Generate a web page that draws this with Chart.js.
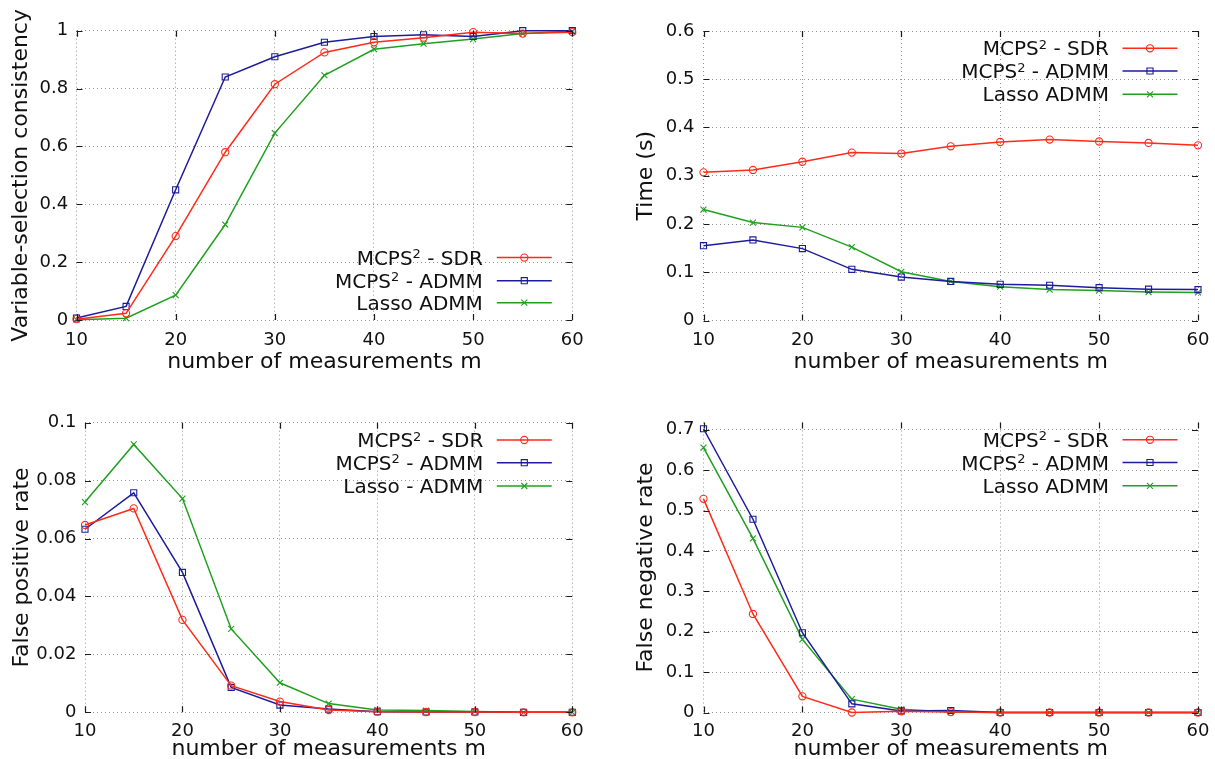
<!DOCTYPE html>
<html>
<head>
<meta charset="utf-8">
<script src="https://cdn.jsdelivr.net/npm/chart.js@4.4.1/dist/chart.umd.min.js"></script>
<style>
  html, body { margin: 0; padding: 0; background: #fff; width: 1215px; height: 759px; overflow: hidden; }
  .panel { position: absolute; }
</style>
</head>
<body>
<div class="panel" style="left:0px;top:0px;width:607px;height:380px"><canvas id="c1"></canvas></div>
<div class="panel" style="left:607px;top:0px;width:608px;height:380px"><canvas id="c2"></canvas></div>
<div class="panel" style="left:0px;top:380px;width:607px;height:390px"><canvas id="c3"></canvas></div>
<div class="panel" style="left:607px;top:380px;width:608px;height:390px"><canvas id="c4"></canvas></div>
<script>
// ---------------- data ----------------
const mValues = [10, 15, 20, 25, 30, 35, 40, 45, 50, 55, 60];
const xTickValues = [10, 20, 30, 40, 50, 60];
const xTitle = 'number of measurements m';

const consistencySdr   = [0.003, 0.023, 0.290, 0.580, 0.815, 0.925, 0.960, 0.976, 0.995, 0.990, 0.995];
const consistencyAdmm  = [0.007, 0.047, 0.450, 0.840, 0.910, 0.960, 0.980, 0.986, 0.980, 1.000, 1.000];
const consistencyLasso = [0.001, 0.006, 0.086, 0.330, 0.646, 0.846, 0.936, 0.955, 0.971, 0.990, 0.998];
const consistencyTicks = [0, 0.2, 0.4, 0.6, 0.8, 1];

const timeSdr   = [0.307, 0.312, 0.329, 0.348, 0.346, 0.361, 0.370, 0.375, 0.371, 0.368, 0.363];
const timeAdmm  = [0.155, 0.167, 0.149, 0.106, 0.090, 0.081, 0.075, 0.073, 0.068, 0.065, 0.064];
const timeLasso = [0.230, 0.203, 0.193, 0.152, 0.101, 0.081, 0.070, 0.064, 0.062, 0.059, 0.058];
const timeTicks = [0, 0.1, 0.2, 0.3, 0.4, 0.5, 0.6];

const fprSdr   = [0.0647, 0.0704, 0.0319, 0.0092, 0.0037, 0.0008, 0.0002, 0.0001, 0.0001, 0, 0];
const fprAdmm  = [0.0632, 0.0758, 0.0483, 0.0086, 0.0025, 0.0011, 0.0002, 0.0001, 0.0001, 0, 0];
const fprLasso = [0.0726, 0.0925, 0.0738, 0.0288, 0.0102, 0.0030, 0.0008, 0.0006, 0.0003, 0, 0];
const fprTicks = [0, 0.02, 0.04, 0.06, 0.08, 0.1];

const fnrSdr   = [0.529, 0.244, 0.040, 0.000, 0.003, 0.001, 0, 0, 0, 0, 0];
const fnrAdmm  = [0.7025, 0.4785, 0.1975, 0.0215, 0.004, 0.005, 0, 0, 0, 0, 0];
const fnrLasso = [0.656, 0.431, 0.181, 0.033, 0.008, 0.001, 0, 0, 0, 0, 0];
const fnrTicks = [0, 0.1, 0.2, 0.3, 0.4, 0.5, 0.6, 0.7];

const labelsMain = ['MCPS^2 - SDR', 'MCPS^2 - ADMM', 'Lasso ADMM'];
const labelsFpr  = ['MCPS^2 - SDR', 'MCPS^2 - ADMM', 'Lasso - ADMM'];

// ---------------- styles ----------------
const FAMILY = '"DejaVu Sans", "Liberation Sans", sans-serif';
const colors = ['#ff2a1a', '#1c1c9c', '#1fa01f'];
const pStyles = ['circle', 'rect', 'crossRot'];
const pRadii = [3.6, 4.3, 4.2];
const gridColor = '#959595';
const textColor = '#111';

const fmt = v => String(parseFloat(Number(v).toFixed(4)));

const tickMarks = {
  id: 'tickMarks',
  afterDatasetsDraw(chart) {
    const { ctx, chartArea: a, scales: { x, y } } = chart;
    ctx.save();
    ctx.strokeStyle = '#1a1a1a';
    ctx.lineWidth = 1.2;
    ctx.beginPath();
    x.ticks.forEach(t => {
      const px = Math.round(x.getPixelForValue(t.value)) + 0.5;
      ctx.moveTo(px, a.bottom); ctx.lineTo(px, a.bottom - 6);
      ctx.moveTo(px, a.top); ctx.lineTo(px, a.top + 6);
    });
    y.ticks.forEach(t => {
      const py = Math.round(y.getPixelForValue(t.value)) + 0.5;
      ctx.moveTo(a.left, py); ctx.lineTo(a.left + 6, py);
      ctx.moveTo(a.right, py); ctx.lineTo(a.right - 6, py);
    });
    ctx.stroke();
    ctx.restore();
  }
};

function drawMarker(ctx, style, x, y, color) {
  ctx.strokeStyle = color;
  ctx.lineWidth = 1.1;
  ctx.beginPath();
  if (style === 'circle') {
    ctx.arc(x, y, 3.6, 0, Math.PI * 2);
  } else if (style === 'rect') {
    ctx.rect(x - 3.05, y - 3.05, 6.1, 6.1);
  } else {
    ctx.moveTo(x - 3, y - 3); ctx.lineTo(x + 3, y + 3);
    ctx.moveTo(x - 3, y + 3); ctx.lineTo(x + 3, y - 3);
  }
  ctx.stroke();
}

const gpLegend = {
  id: 'gpLegend',
  afterDraw(chart, args, o) {
    const ctx = chart.ctx, a = chart.chartArea;
    ctx.save();
    chart.data.datasets.forEach((ds, i) => {
      const y = (o.anchor === 'bottom' ? a.bottom : a.top) + o.rows[i];
      const label = ds.label;
      let base = label, sup = '', rest = '';
      const k = label.indexOf('^');
      if (k >= 0) { base = label.slice(0, k); sup = label.charAt(k + 1); rest = label.slice(k + 2); }
      const mainFont = '20px ' + FAMILY, supFont = '13px ' + FAMILY;
      ctx.font = mainFont; const w0 = ctx.measureText(base).width; const w1 = ctx.measureText(rest).width;
      ctx.font = supFont; const ws = ctx.measureText(sup).width;
      const x0 = a.right + o.textRight - (w0 + ws + w1);
      ctx.fillStyle = textColor;
      ctx.textAlign = 'left';
      ctx.textBaseline = 'alphabetic';
      ctx.font = mainFont; ctx.fillText(base, x0, y + 7);
      ctx.font = supFont; ctx.fillText(sup, x0 + w0, y + 0.5);
      ctx.font = mainFont; ctx.fillText(rest, x0 + w0 + ws, y + 7);
      ctx.strokeStyle = ds.borderColor; ctx.lineWidth = 1.5;
      ctx.beginPath();
      ctx.moveTo(a.right + o.lineFrom, y); ctx.lineTo(a.right + o.lineTo, y);
      ctx.stroke();
      drawMarker(ctx, ds.pointStyle, a.right + o.marker, y, ds.borderColor);
    });
    ctx.restore();
  }
};

function makePanel(id, p) {
  new Chart(document.getElementById(id), {
    type: 'line',
    data: {
      datasets: p.series.map((vals, i) => ({
        label: p.labels[i],
        data: mValues.map((m, j) => ({ x: m, y: vals[j] })),
        borderColor: colors[i],
        borderWidth: 1.5,
        pointStyle: pStyles[i],
        pointRadius: pRadii[i],
        pointBorderColor: colors[i],
        pointBackgroundColor: 'rgba(0,0,0,0)',
        pointBorderWidth: 1.1,
        tension: 0,
        clip: false,
        fill: false
      }))
    },
    options: {
      responsive: true,
      maintainAspectRatio: false,
      animation: false,
      events: [],
      layout: { padding: { left: 0, right: p.padRight, top: p.padTop, bottom: 0 } },
      plugins: {
        legend: { display: false },
        tooltip: { enabled: false },
        gpLegend: p.legend
      },
      scales: {
        x: {
          type: 'linear', min: 10, max: 60,
          afterBuildTicks: s => { s.ticks = xTickValues.map(v => ({ value: v })); },
          afterFit: s => { s.height = p.xHeight; s.paddingLeft = 0; s.paddingRight = 0; },
          grid: { color: gridColor, lineWidth: 1, drawTicks: false },
          border: { display: false, dash: [1, 3] },
          ticks: { font: { family: FAMILY, size: 18 }, color: textColor, padding: p.xTickPad, maxRotation: 0, autoSkip: false, callback: fmt },
          title: { display: true, text: xTitle, color: textColor, font: { family: FAMILY, size: 22, lineHeight: 1.2 }, padding: { top: 0, bottom: p.xTitlePad } }
        },
        y: {
          type: 'linear', min: 0, max: p.yMax,
          afterBuildTicks: s => { s.ticks = p.yTicks.map(v => ({ value: v })); },
          afterFit: s => { s.width = p.yWidth; s.paddingTop = 0; s.paddingBottom = 0; },
          grid: { color: gridColor, lineWidth: 1, drawTicks: false },
          border: { display: false, dash: [1, 3] },
          ticks: { font: { family: FAMILY, size: 18 }, color: textColor, padding: p.yTickPad, autoSkip: false, callback: fmt },
          title: { display: true, text: p.yTitle, color: textColor, font: { family: FAMILY, size: 22, lineHeight: 1.2 }, padding: { top: p.yTitlePad, bottom: 0 } }
        }
      }
    },
    plugins: [tickMarks, gpLegend]
  });
}

const legendTop = { anchor: 'top', rows: [17.3, 40, 63.3], textRight: -89, lineFrom: -75.5, lineTo: -20.5, marker: -48 };
const legendBottom = { anchor: 'bottom', rows: [-62.4, -39.3, -17.3], textRight: -89.5, lineFrom: -75.5, lineTo: -20.5, marker: -48 };

makePanel('c1', {
  series: [consistencySdr, consistencyAdmm, consistencyLasso], labels: labelsMain,
  yTicks: consistencyTicks, yMax: 1, yTitle: 'Variable-selection consistency',
  padTop: 30.7, padRight: 34.7, yWidth: 76.5, xHeight: 60, yTickPad: 8.3, yTitlePad: 8.3, xTickPad: 9.5, xTitlePad: 4.6,
  legend: legendBottom
});
makePanel('c2', {
  series: [timeSdr, timeAdmm, timeLasso], labels: labelsMain,
  yTicks: timeTicks, yMax: 0.6, yTitle: 'Time (s)',
  padTop: 31, padRight: 17, yWidth: 96.5, xHeight: 59.5, yTickPad: 9, yTitlePad: 26.3, xTickPad: 9.5, xTitlePad: 4.6,
  legend: legendTop
});
makePanel('c3', {
  series: [fprSdr, fprAdmm, fprLasso], labels: labelsFpr,
  yTicks: fprTicks, yMax: 0.1, yTitle: 'False positive rate',
  padTop: 42.7, padRight: 34.7, yWidth: 85, xHeight: 57.7, yTickPad: 8.6, yTitlePad: 9.3, xTickPad: 8.5, xTitlePad: 7.2,
  legend: legendTop
});
makePanel('c4', {
  series: [fnrSdr, fnrAdmm, fnrLasso], labels: labelsMain,
  yTicks: fnrTicks, yMax: 0.718, yTitle: 'False negative rate',
  padTop: 42.5, padRight: 17, yWidth: 96.5, xHeight: 57.5, yTickPad: 9, yTitlePad: 26.3, xTickPad: 8.5, xTitlePad: 7.2,
  legend: legendTop
});
</script>
</body>
</html>
